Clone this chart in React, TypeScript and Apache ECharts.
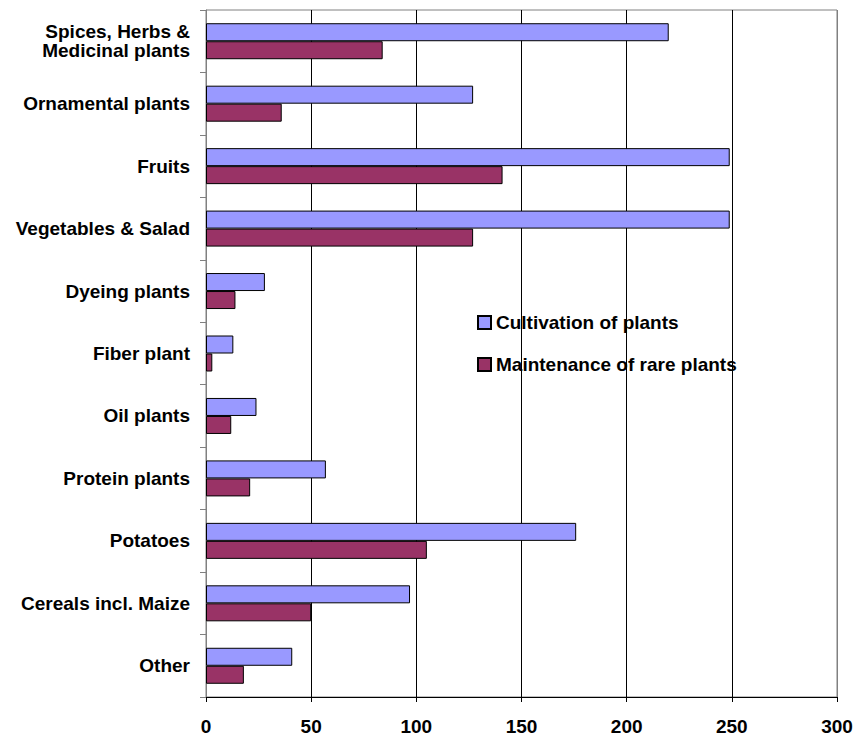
import React, { useEffect, useRef } from "react";
import * as echarts from "echarts";

// Crop groups, listed top to bottom
const categories = [
  "Spices, Herbs &\nMedicinal plants",
  "Ornamental plants",
  "Fruits",
  "Vegetables & Salad",
  "Dyeing plants",
  "Fiber plant",
  "Oil plants",
  "Protein plants",
  "Potatoes",
  "Cereals incl. Maize",
  "Other",
];

const cultivation = [220, 127, 249, 249, 28, 13, 24, 57, 176, 97, 41];
const maintenance = [84, 36, 141, 127, 14, 3, 12, 21, 105, 50, 18];

const seriesNames = ["Cultivation of plants", "Maintenance of rare plants"];
const xTicks = [0, 50, 100, 150, 200, 250, 300];

const FONT = "Arial, 'Liberation Sans', sans-serif";

export default function App() {
  const ref = useRef<HTMLDivElement>(null);

  useEffect(() => {
    if (!ref.current) return;
    const chart = echarts.init(ref.current, undefined, { renderer: "svg" });
    chart.setOption({
      animation: false,
      backgroundColor: "#ffffff",
      grid: {
        left: 206,
        top: 10,
        right: 21,
        bottom: 41,
        containLabel: false,
        outerBoundsMode: "none",
        show: true,
        borderColor: "#808080",
        borderWidth: 1,
        backgroundColor: "transparent",
      },
      legend: {
        orient: "vertical",
        left: 472,
        top: 308,
        itemWidth: 13,
        itemHeight: 13,
        itemGap: 23,
        data: seriesNames,
        icon: "rect",
        textStyle: {
          fontFamily: FONT,
          fontWeight: "bold",
          fontSize: 19,
          lineHeight: 19,
          color: "#000",
        },
      },
      xAxis: {
        type: "value",
        min: xTicks[0],
        max: xTicks[xTicks.length - 1],
        interval: 50,
        axisLine: { show: true, lineStyle: { color: "#000", width: 1 } },
        axisTick: { show: true, length: 5, lineStyle: { color: "#000" } },
        axisLabel: {
          margin: 20,
          fontFamily: FONT,
          fontWeight: "bold",
          fontSize: 19,
          color: "#000",
        },
        splitLine: {
          show: true,
          lineStyle: {
            color: ["#808080", "#000", "#000", "#000", "#000", "#000", "#808080"],
            width: 1,
          },
        },
      },
      yAxis: {
        type: "category",
        inverse: true,
        data: categories,
        axisLine: { show: true, lineStyle: { color: "#808080", width: 1 } },
        axisTick: { show: true, length: 6, lineStyle: { color: "#808080" } },
        axisLabel: {
          margin: 16,
          fontFamily: FONT,
          fontWeight: "bold",
          fontSize: 19,
          lineHeight: 19,
          color: "#000",
          align: "right",
        },
        splitLine: { show: false },
      },
      series: [
        {
          name: seriesNames[0],
          type: "bar",
          data: cultivation,
          barWidth: 18,
          barGap: "0%",
          itemStyle: { color: "#9999ff", borderColor: "#000", borderWidth: 1 },
        },
        {
          name: seriesNames[1],
          type: "bar",
          data: maintenance,
          barWidth: 18,
          barGap: "0%",
          itemStyle: { color: "#993366", borderColor: "#000", borderWidth: 1 },
        },
      ],
    });
    return () => chart.dispose();
  }, []);

  return (
    <div
      ref={ref}
      style={{ position: "fixed", left: 0, top: 0, width: 858, height: 738 }}
    />
  );
}
